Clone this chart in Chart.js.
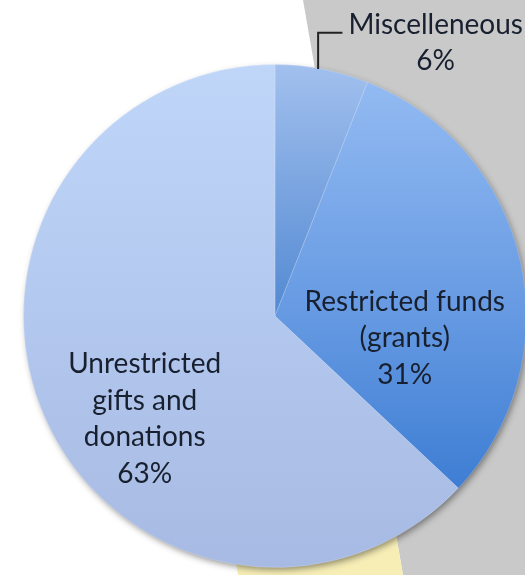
<!DOCTYPE html>
<html>
<head>
<meta charset="utf-8">
<script src="https://cdn.jsdelivr.net/npm/chart.js@4"></script>
<style>
  html, body { margin: 0; padding: 0; background: #fff; overflow: hidden; }
  #wrap { position: absolute; left: 0; top: 0; width: 530px; height: 575px; }
</style>
</head>
<body>
<div id="wrap"><canvas id="pie"></canvas></div>
<script>
// data
const categories = ['Miscelleneous', 'Restricted funds (grants)', 'Unrestricted gifts and donations'];
const shares = [6, 31, 63];
const labelLines = [
    ['Miscelleneous', '6%'],
    ['Restricted funds', '(grants)', '31%'],
    ['Unrestricted', 'gifts and', 'donations', '63%']
];

// gradient stops per slice (top -> bottom of the pie)
const sliceStops = [
    [[0, '#a2c0ee'], [0.5, '#5289d2'], [1, '#3a70c0']],
    [[0, '#96bdf3'], [0.5, '#6599e2'], [0.85, '#3d7dd3'], [1, '#3876cb']],
    [[0, '#bfd6f9'], [1, '#a7bae3']]
];
const fallback = ['#7aa3df', '#6a9de3', '#b3c8ee'];

// where each label block sits, in units of the radius from the centre
const labelAt = [[0.639, -1.085], [0.516, 0.089], [-0.518, 0.409]];
const LINE_H = 36.5;
const FONT = '28px Lato';

function sliceFill(ctx) {
    const area = ctx.chart.chartArea;
    const i = ctx.dataIndex;
    if (!area) return fallback[i];
    const g = ctx.chart.ctx.createLinearGradient(0, area.top, 0, area.bottom);
    sliceStops[i].forEach(s => g.addColorStop(s[0], s[1]));
    return g;
}

// gray and yellow sheets behind the pie
const backdrop = {
    id: 'backdrop',
    beforeDraw(chart) {
        const c = chart.ctx;
        c.save();
        c.fillStyle = '#ffffff';
        c.fillRect(0, 0, chart.width, chart.height);
        c.fillStyle = '#c9c9ca';
        c.beginPath();
        c.moveTo(303, 0); c.lineTo(chart.width, 0); c.lineTo(chart.width, 575); c.lineTo(403, 575);
        c.closePath(); c.fill();
        c.fillStyle = '#f7eeb6';
        c.beginPath();
        c.moveTo(225, 500); c.lineTo(390, 500); c.lineTo(403, 575); c.lineTo(238, 575);
        c.closePath(); c.fill();
        c.restore();
    },
    beforeDatasetsDraw(chart) {
        const el = chart.getDatasetMeta(0).data[0];
        if (!el) return;
        const c = chart.ctx;
        c.save();
        c.shadowColor = 'rgba(0,0,0,0.45)';
        c.shadowBlur = 7;
        c.shadowOffsetX = 2;
        c.shadowOffsetY = 3;
        c.fillStyle = '#b0c3ea';
        c.beginPath();
        c.arc(el.x, el.y, el.outerRadius - 1, 0, Math.PI * 2);
        c.fill();
        c.restore();
    }
};

// slice labels and the leader line for the small slice
const sliceLabels = {
    id: 'sliceLabels',
    afterDatasetsDraw(chart) {
        const c = chart.ctx;
        const arcs = chart.getDatasetMeta(0).data;
        c.save();
        c.font = FONT;
        c.fillStyle = '#18202f';
        c.textAlign = 'center';
        c.textBaseline = 'middle';
        arcs.forEach((el, i) => {
            const r = el.outerRadius;
            const cx = el.x + labelAt[i][0] * r;
            const cy = el.y + labelAt[i][1] * r;
            const lines = labelLines[i];
            const y0 = cy - (lines.length - 1) * LINE_H / 2;
            lines.forEach((t, k) => c.fillText(t, cx, y0 + k * LINE_H));

            if (i === 0) {
                // leader from the slice edge up to the label
                const mid = (el.startAngle + el.endAngle) / 2;
                const px = el.x + Math.cos(mid) * r - 4;
                const py = el.y + Math.sin(mid) * r;
                const textLeft = cx - c.measureText(lines[0]).width / 2;
                c.strokeStyle = '#222';
                c.lineWidth = 2;
                c.beginPath();
                c.moveTo(px, py);
                c.lineTo(px, y0 + 8);
                c.lineTo(textLeft - 6, y0 + 8);
                c.stroke();
            }
        });
        c.restore();
    }
};

new Chart(document.getElementById('pie'), {
    type: 'pie',
    data: {
        labels: categories,
        datasets: [{
            data: shares,
            backgroundColor: sliceFill,
            borderColor: 'rgba(255,255,255,0.18)',
            borderWidth: 1
        }]
    },
    options: {
        responsive: true,
        maintainAspectRatio: false,
        animation: false,
        layout: { padding: { left: 23, right: 3, top: 64, bottom: 7 } },
        plugins: {
            legend: { display: false },
            tooltip: { enabled: false }
        }
    },
    plugins: [backdrop, sliceLabels]
});
</script>
</body>
</html>
